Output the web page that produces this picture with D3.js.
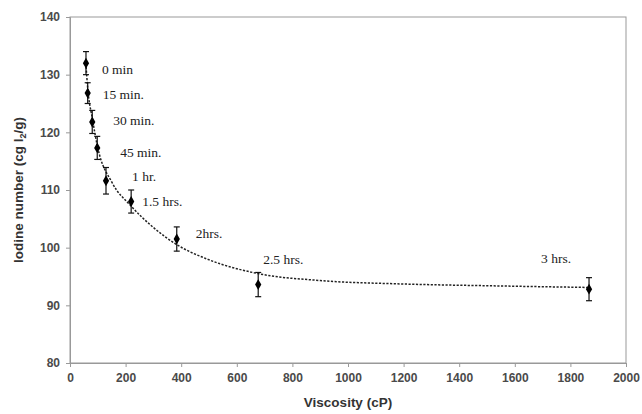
<!DOCTYPE html>
<html>
<head>
<meta charset="utf-8">
<script src="https://cdn.jsdelivr.net/npm/d3@7"></script>
<style>
  html, body { margin: 0; padding: 0; background: #fff; }
  svg { display: block; }
  .tick text { font-family: Arial, "Liberation Sans", sans-serif; font-weight: bold; font-size: 12px; fill: #4a4a4a; }
  .pt-label { font-family: "Liberation Serif", "Times New Roman", Times, serif; font-size: 13.5px; fill: #222; }
</style>
</head>
<body>
<svg id="chart" width="642" height="414"></svg>
<script>
// Sampling times (point labels)
const timeLabels = ["0 min", "15 min.", "30 min.", "45 min.", "1 hr.", "1.5 hrs.", "2hrs.", "2.5 hrs.", "3 hrs."];
// Viscosity (cP) of each sample
const viscosity = [57.5, 63.6, 80, 98, 129.5, 220, 384, 677, 1867];
// Iodine number (cg I2/g) of each sample
const iodine = [132.0, 126.8, 121.8, 117.3, 111.6, 108.0, 101.5, 93.6, 92.8];
// Error bar half-widths
const iodineErr = [2.0, 1.8, 2.0, 2.0, 2.3, 2.0, 2.1, 2.1, 2.0];

// Fitted trend line (viscosity, iodine number)
const fitViscosity = [57, 64, 80, 100, 150, 220, 300, 385, 500, 677, 900, 1200, 1500, 1867];
const fitIodine = [132.0, 127.5, 122.5, 117.3, 111.4, 107.2, 103.5, 100.5, 97.9, 95.5, 94.3, 93.7, 93.4, 93.1];

// Axis ticks
const xTicks = [0, 200, 400, 600, 800, 1000, 1200, 1400, 1600, 1800, 2000];
const yTicks = [80, 90, 100, 110, 120, 130, 140];

// Label offsets from each point (px)
const labelOffsets = [[16, 11], [15, 6], [21, 3], [23, 9], [26, 0], [11, 4], [19, -1], [5, -21], [-48, -26]];

const svg = d3.select("#chart");
const plotLeft = 70, plotRight = 626, plotTop = 17, plotBottom = 363;

const x = d3.scaleLinear().domain([0, 2000]).range([plotLeft, plotRight]);
const y = d3.scaleLinear().domain([80, 140]).range([plotBottom, plotTop]);

const axisColor = "#999";

// Plot frame
svg.append("rect")
  .attr("x", plotLeft).attr("y", plotTop)
  .attr("width", plotRight - plotLeft).attr("height", plotBottom - plotTop)
  .attr("fill", "none").attr("stroke", axisColor).attr("stroke-width", 1);

// X axis
const gx = svg.append("g")
  .attr("transform", `translate(0,${plotBottom})`)
  .call(d3.axisBottom(x).tickValues(xTicks).tickSize(4).tickPadding(6).tickFormat(d3.format("d")));
gx.select(".domain").attr("stroke", axisColor);
gx.selectAll(".tick line").attr("stroke", axisColor);

// Y axis
const gy = svg.append("g")
  .attr("transform", `translate(${plotLeft},0)`)
  .call(d3.axisLeft(y).tickValues(yTicks).tickSize(4).tickPadding(6).tickFormat(d3.format("d")));
gy.select(".domain").attr("stroke", axisColor);
gy.selectAll(".tick line").attr("stroke", axisColor);

// Axis titles
svg.append("text")
  .attr("x", (plotLeft + plotRight) / 2).attr("y", 407)
  .attr("text-anchor", "middle")
  .attr("font-family", "Arial, 'Liberation Sans', sans-serif")
  .attr("font-weight", "bold").attr("font-size", "13.5px").attr("fill", "#333")
  .text("Viscosity (cP)");

const yTitle = svg.append("text")
  .attr("transform", `translate(23,${(plotTop + plotBottom) / 2}) rotate(-90)`)
  .attr("text-anchor", "middle")
  .attr("font-family", "Arial, 'Liberation Sans', sans-serif")
  .attr("font-weight", "bold").attr("font-size", "13.5px").attr("fill", "#333");
yTitle.append("tspan").text("Iodine number (cg I");
yTitle.append("tspan").attr("dy", 3).attr("font-size", "9px").text("2");
yTitle.append("tspan").attr("dy", -3).text("/g)");

// Trend line
const fit = fitViscosity.map((v, i) => [v, fitIodine[i]]);
svg.append("path")
  .datum(fit)
  .attr("fill", "none")
  .attr("stroke", "#222")
  .attr("stroke-width", 1.5)
  .attr("stroke-dasharray", "2.2,1.5")
  .attr("d", d3.line().x(d => x(d[0])).y(d => y(d[1])).curve(d3.curveMonotoneX));

// Error bars
const data = viscosity.map((v, i) => ({ v, iod: iodine[i], err: iodineErr[i], label: timeLabels[i], off: labelOffsets[i] }));
const eb = svg.append("g").attr("stroke", "#111").attr("stroke-width", 1.2);
data.forEach(d => {
  const cx = x(d.v), y0 = y(d.iod - d.err), y1 = y(d.iod + d.err);
  eb.append("line").attr("x1", cx).attr("x2", cx).attr("y1", y0).attr("y2", y1);
  eb.append("line").attr("x1", cx - 3).attr("x2", cx + 3).attr("y1", y0).attr("y2", y0);
  eb.append("line").attr("x1", cx - 3).attr("x2", cx + 3).attr("y1", y1).attr("y2", y1);
});

// Markers
svg.append("g").selectAll("path")
  .data(data).join("path")
  .attr("transform", d => `translate(${x(d.v)},${y(d.iod)})`)
  .attr("d", d3.symbol().type(d3.symbolDiamond).size(34))
  .attr("fill", "#000");

// Point labels
svg.append("g").selectAll("text")
  .data(data).join("text")
  .attr("class", "pt-label")
  .attr("x", d => x(d.v) + d.off[0])
  .attr("y", d => y(d.iod) + d.off[1])
  .text(d => d.label);
</script>
</body>
</html>
